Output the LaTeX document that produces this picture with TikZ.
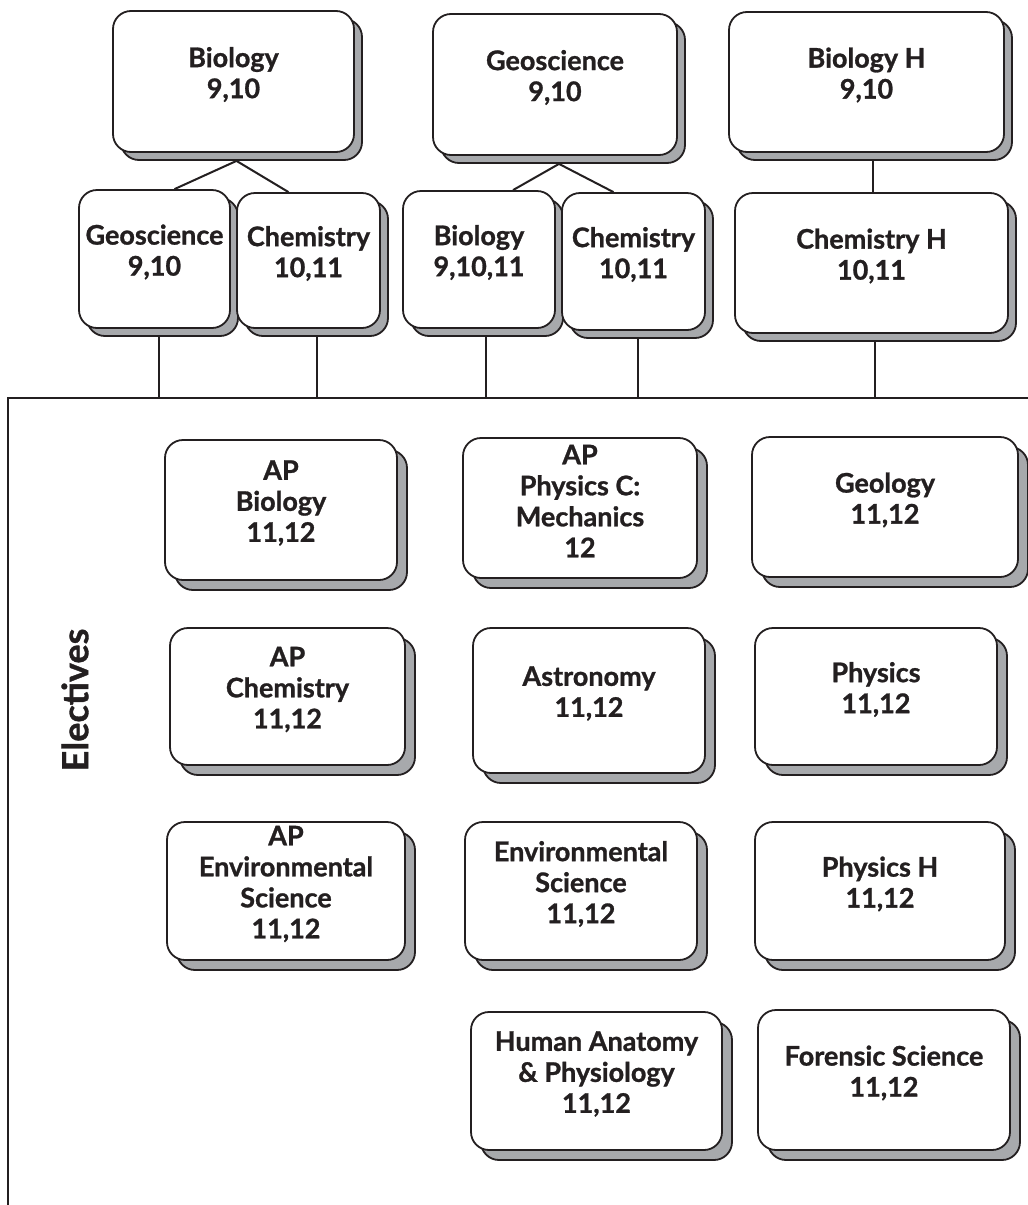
\documentclass[tikz,border=0pt]{standalone}
\usepackage{fontspec}
\setmainfont{Lato}[BoldFeatures={FakeBold=1}]
\usepackage{tikz}
\usetikzlibrary{shadows,backgrounds}

\definecolor{ink}{HTML}{231F20}
\definecolor{shade}{HTML}{A7A9AC}

\tikzset{
  course/.style={draw=ink, line width=1.8pt, fill=white, rounded corners=18pt,
    inner sep=0pt, general shadow={fill=shade, draw=ink, line width=1.8pt,
      shadow xshift=#1, shadow yshift=-#1}},
  course/.default=8pt,
  title/.style={align=center, text=ink, yshift=7pt,
    font=\fontsize{27}{31}\selectfont\bfseries},
  link/.style={draw=ink, line width=2pt},
}

\begin{document}
\begin{tikzpicture}[x=1pt, y=-1pt]
  \useasboundingbox (0,0) rectangle (1028,1205);

  % required courses
  \node[course, minimum width=241pt, minimum height=141pt,
    label={[title]center:{Biology\\9,10}}] (biotop) at (233.5,81.5) {};
  \node[course, minimum width=244pt, minimum height=141pt,
    label={[title]center:{Geoscience\\9,10}}] (geotop) at (555,84.5) {};
  \node[course, minimum width=275pt, minimum height=140pt,
    label={[title]center:{Biology H\\9,10}}] (biohtop) at (866.5,82) {};

  \node[course, minimum width=151pt, minimum height=138pt,
    label={[title]center:{Geoscience\\9,10}}] (geo2) at (154.5,259) {};
  \node[course, minimum width=143pt, minimum height=135pt,
    label={[title]center:{Chemistry\\10,11}}] (chem2) at (308.5,260.5) {};
  \node[course, minimum width=152pt, minimum height=137pt,
    label={[title]center:{Biology\\9,10,11}}] (bio3) at (479,259.5) {};
  \node[course, minimum width=143pt, minimum height=137pt,
    label={[title]center:{Chemistry\\10,11}}] (chem3) at (633.5,261.5) {};
  \node[course, minimum width=273pt, minimum height=140pt,
    label={[title]center:{Chemistry H\\10,11}}] (chemh) at (871.5,263) {};

  % electives frame
  \coordinate (corner) at (8,398);
  \draw[ink, line width=2.4pt] (8,1205) -- (corner) -- (1028,398);
  \node[rotate=90, text=ink, font=\fontsize{36}{40}\selectfont\bfseries]
    (electives) at (75,700) {Electives};

  \node[course=10pt, minimum width=232pt, minimum height=140pt,
    label={[title]center:{AP\\Biology\\11,12}}] (apbio) at (281,510) {};
  \node[course=10pt, minimum width=234pt, minimum height=140pt,
    label={[title]center:{AP\\Physics C:\\Mechanics\\12}}] (apphys) at (580,508) {};
  \node[course=10pt, minimum width=266pt, minimum height=140pt,
    label={[title]center:{Geology\\11,12}}] (geol) at (885,507) {};

  \node[course=10pt, minimum width=235pt, minimum height=137pt,
    label={[title]center:{AP\\Chemistry\\11,12}}] (apchem) at (287.5,696.5) {};
  \node[course=10pt, minimum width=232pt, minimum height=145pt,
    label={[title]center:{Astronomy\\11,12}}] (astro) at (589,700.5) {};
  \node[course=10pt, minimum width=242pt, minimum height=137pt,
    label={[title]center:{Physics\\11,12}}] (phys) at (876,696.5) {};

  \node[course=10pt, minimum width=238pt, minimum height=138pt,
    label={[title]center:{AP\\Environmental\\Science\\11,12}}] (apenv) at (286,891) {};
  \node[course=10pt, minimum width=232pt, minimum height=138pt,
    label={[title]center:{Environmental\\Science\\11,12}}] (envsci) at (581,891) {};
  \node[course=10pt, minimum width=250pt, minimum height=138pt,
    label={[title]center:{Physics H\\11,12}}] (physh) at (880,891) {};

  \node[course=10pt, minimum width=251pt, minimum height=138pt,
    label={[title]center:{Human Anatomy\\\& Physiology\\11,12}}] (anat) at (596.5,1081) {};
  \node[course=10pt, minimum width=252pt, minimum height=140pt,
    label={[title]center:{Forensic Science\\11,12}}] (foren) at (884,1080) {};

  % connectors
  \begin{scope}[on background layer]
    \draw[link] ([xshift=3pt,yshift=-8pt]biotop.south) -- ([xshift=20pt]geo2.north);
    \draw[link] ([xshift=3pt,yshift=-8pt]biotop.south) -- ([xshift=-20pt]chem2.north);
    \draw[link] ([xshift=4pt,yshift=-8pt]geotop.south) -- ([xshift=34pt]bio3.north);
    \draw[link] ([xshift=4pt,yshift=-8pt]geotop.south) -- ([xshift=-20pt]chem3.north);
    \draw[link] ([xshift=6pt]biohtop.center) -- ([xshift=6pt]biohtop.center |- chemh.north);
    \foreach \c/\d in {geo2/4pt, chem2/8pt, bio3/7pt, chem3/4pt, chemh/3pt}
      \draw[link] ([xshift=\d]\c.center) -- ([xshift=\d]\c.center |- corner);
  \end{scope}
\end{tikzpicture}
\end{document}
